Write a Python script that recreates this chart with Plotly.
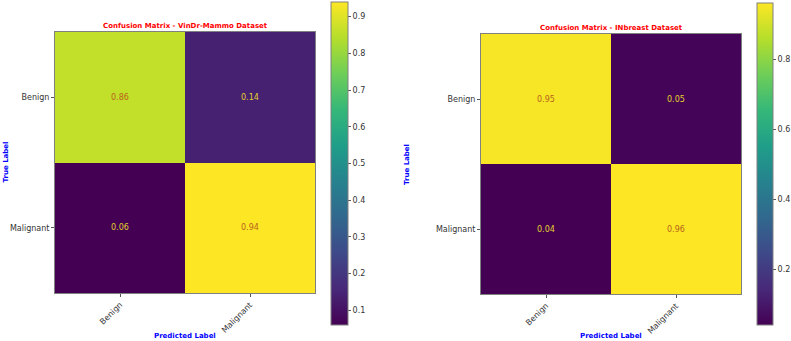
import plotly.graph_objects as go

W, H = 791, 341

classes = ["Benign", "Malignant"]
vindr_values = [[0.86, 0.14], [0.06, 0.94]]
inbreast_values = [[0.95, 0.05], [0.04, 0.96]]
titles = ["Confusion Matrix - VinDr-Mammo Dataset", "Confusion Matrix - INbreast Dataset"]
cbar_ticks_left = [0.1, 0.2, 0.3, 0.4, 0.5, 0.6, 0.7, 0.8, 0.9]
cbar_ticks_right = [0.2, 0.4, 0.6, 0.8]

FONT = "DejaVu Sans"

def px_x(p):
    return p / W

def px_y(p):
    return 1 - p / H

panels = [
    dict(vals=vindr_values, title=titles[0], ticks=cbar_ticks_left,
         xd=(55, 315), yd=(32, 293), cb=(331, 348, 2, 325), xa="x", ya="y"),
    dict(vals=inbreast_values, title=titles[1], ticks=cbar_ticks_right,
         xd=(481, 741), yd=(34, 294), cb=(757, 773, 3, 325), xa="x2", ya="y2"),
]

fig = go.Figure()
annotations = []
layout_axes = {}

for i, p in enumerate(panels):
    vals = p["vals"]
    flat = [v for row in vals for v in row]
    zmin, zmax = min(flat), max(flat)
    cbx0, cbx1, cby0, cby1 = p["cb"]
    fig.add_trace(go.Heatmap(
        z=vals, x=classes, y=classes, xaxis=p["xa"], yaxis=p["ya"],
        colorscale="Viridis", zmin=zmin, zmax=zmax, xgap=0, ygap=0,
        hoverinfo="skip",
        colorbar=dict(
            x=px_x(cbx0), xanchor="left", thickness=cbx1 - cbx0, thicknessmode="pixels",
            y=px_y((cby0 + cby1) / 2), yanchor="middle", len=cby1 - cby0, lenmode="pixels",
            outlinewidth=1, outlinecolor="#808080",
            tickvals=p["ticks"], ticktext=[f"{t:.1f}" for t in p["ticks"]],
            ticks="outside", ticklen=3, tickcolor="#555",
            tickfont=dict(family=FONT, size=8, color="#333"),
            xpad=0, ypad=0,
        ),
    ))
    sfx = "" if i == 0 else "2"
    layout_axes["xaxis" + sfx] = dict(
        domain=[px_x(p["xd"][0]), px_x(p["xd"][1])], anchor=p["ya"],
        tickangle=-45, ticks="outside", ticklen=3, tickcolor="#555",
        tickfont=dict(family=FONT, size=8, color="#333"),
        showline=True, mirror=True, linecolor="#808080", linewidth=1,
        showgrid=False, zeroline=False, fixedrange=True,
    )
    layout_axes["yaxis" + sfx] = dict(
        domain=[px_y(p["yd"][1]), px_y(p["yd"][0])], anchor=p["xa"],
        autorange="reversed", ticks="outside", ticklen=3, tickcolor="#555",
        tickfont=dict(family=FONT, size=8, color="#333"),
        showline=True, mirror=True, linecolor="#808080", linewidth=1,
        showgrid=False, zeroline=False, fixedrange=True,
    )
    # cell annotations
    mid = (zmin + zmax) / 2
    for r, rowname in enumerate(classes):
        for c, colname in enumerate(classes):
            v = vals[r][c]
            annotations.append(dict(
                x=colname, y=rowname, xref=p["xa"], yref=p["ya"],
                text=f"{v:.2f}", showarrow=False, xanchor="center", yanchor="middle",
                font=dict(family=FONT, size=8, color="#b8621b" if v > mid else "#e3cf2c"),
            ))
    xc = (p["xd"][0] + p["xd"][1]) / 2
    # title
    annotations.append(dict(
        x=px_x(xc), y=px_y(p["yd"][0] - 6), xref="paper", yref="paper",
        text="<b>" + p["title"] + "</b>", showarrow=False,
        font=dict(family=FONT, size=7, color="#ff0000"), xanchor="center", yanchor="middle",
    ))
    # x label
    annotations.append(dict(
        x=px_x(xc), y=px_y(336), xref="paper", yref="paper",
        text="<b>Predicted Label</b>", showarrow=False,
        font=dict(family=FONT, size=7, color="#0000ff"), xanchor="center", yanchor="middle",
    ))
    # y label
    ylx = 5 if i == 0 else 407
    annotations.append(dict(
        x=px_x(ylx), y=px_y((p["yd"][0] + p["yd"][1]) / 2), xref="paper", yref="paper",
        text="<b>True Label</b>", showarrow=False, textangle=-90,
        font=dict(family=FONT, size=7, color="#0000ff"), xanchor="center", yanchor="middle",
    ))

fig.update_layout(
    width=W, height=H, margin=dict(l=0, r=0, t=0, b=0),
    paper_bgcolor="white", plot_bgcolor="white",
    annotations=annotations, showlegend=False,
    font=dict(family=FONT),
    **layout_axes,
)

fig.write_html("out.html")
